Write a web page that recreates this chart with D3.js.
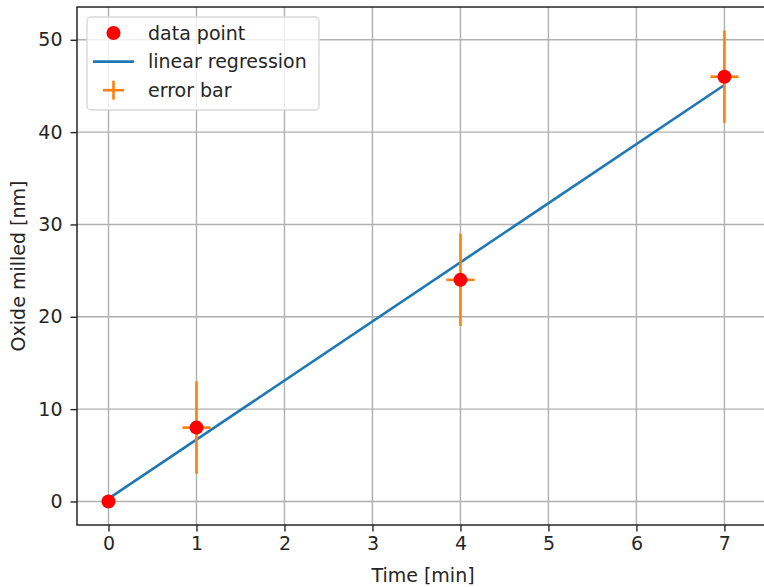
<!DOCTYPE html>
<html>
<head>
<meta charset="utf-8">
<script src="https://cdn.jsdelivr.net/npm/d3@7"></script>
<style>
  body { margin: 0; background: #fff; }
  svg { display: block; font-family: "DejaVu Sans", sans-serif; }
</style>
</head>
<body>
<svg width="764" height="587"></svg>
<script>
// Measured data
const times = [0, 1, 4, 7];
const oxide = [0, 8, 24, 46];
const yErr = [0, 5, 5, 5];
const xErr = [0, 0.16, 0.16, 0.16];

// Regression line end points
const fitTimes = [0, 7];
const fitOxide = [0.3, 45.1];

const xTicks = [0, 1, 2, 3, 4, 5, 6, 7];
const yTicks = [0, 10, 20, 30, 40, 50];

const width = 764;
const height = 587;
const margin = { top: 7, right: -6, bottom: 62, left: 77 };
const fontSize = 19;
const textColor = "#262626";

const svg = d3.select("svg");

const x = d3.scaleLinear()
  .domain([-0.358, 7.518])
  .range([margin.left, width - margin.right]);

const y = d3.scaleLinear()
  .domain([-2.55, 53.55])
  .range([height - margin.bottom, margin.top]);

const plotLeft = margin.left, plotRight = width - margin.right;
const plotTop = margin.top, plotBottom = height - margin.bottom;

// Grid
svg.append("g").selectAll("line")
  .data(xTicks).enter().append("line")
  .attr("x1", d => x(d)).attr("x2", d => x(d))
  .attr("y1", plotTop).attr("y2", plotBottom)
  .attr("stroke", "#b0b0b0").attr("stroke-width", 1.4);

svg.append("g").selectAll("line")
  .data(yTicks).enter().append("line")
  .attr("y1", d => y(d)).attr("y2", d => y(d))
  .attr("x1", plotLeft).attr("x2", plotRight)
  .attr("stroke", "#b0b0b0").attr("stroke-width", 1.4);

// Axes
const xAxis = d3.axisBottom(x).tickValues(xTicks).tickSize(6.5).tickPadding(5).tickFormat(d3.format("d"));
const yAxis = d3.axisLeft(y).tickValues(yTicks).tickSize(6.5).tickPadding(8).tickFormat(d3.format("d"));

const gx = svg.append("g")
  .attr("transform", `translate(0, ${plotBottom})`)
  .call(xAxis);
const gy = svg.append("g")
  .attr("transform", `translate(${plotLeft}, 0)`)
  .call(yAxis);

[gx, gy].forEach(g => {
  g.select(".domain").remove();
  g.selectAll("text").attr("font-size", fontSize).attr("fill", textColor)
    .attr("font-family", "DejaVu Sans, sans-serif");
  g.selectAll("line").attr("stroke", textColor).attr("stroke-width", 1.4);
});

// Frame
svg.append("rect")
  .attr("x", plotLeft).attr("y", plotTop)
  .attr("width", plotRight - plotLeft).attr("height", plotBottom - plotTop)
  .attr("fill", "none").attr("stroke", textColor).attr("stroke-width", 1.5);

// Regression line
const fit = fitTimes.map((t, i) => [t, fitOxide[i]]);
svg.append("path")
  .datum(fit)
  .attr("d", d3.line().x(d => x(d[0])).y(d => y(d[1])))
  .attr("fill", "none").attr("stroke", "#1f77b4").attr("stroke-width", 2.6);

// Error bars
const pts = times.map((t, i) => ({ t, v: oxide[i], ey: yErr[i], ex: xErr[i] }));
const eb = svg.append("g").attr("stroke", "#ff7f0e").attr("stroke-width", 2.6);
eb.selectAll("line.ev").data(pts.filter(d => d.ey > 0)).enter().append("line")
  .attr("x1", d => x(d.t)).attr("x2", d => x(d.t))
  .attr("y1", d => y(d.v - d.ey)).attr("y2", d => y(d.v + d.ey));
eb.selectAll("line.eh").data(pts.filter(d => d.ex > 0)).enter().append("line")
  .attr("x1", d => x(d.t - d.ex)).attr("x2", d => x(d.t + d.ex))
  .attr("y1", d => y(d.v)).attr("y2", d => y(d.v));

// Data points
svg.append("g").selectAll("circle")
  .data(pts).enter().append("circle")
  .attr("cx", d => x(d.t)).attr("cy", d => y(d.v))
  .attr("r", 7).attr("fill", "#ff0000");

// Axis labels
svg.append("text")
  .attr("x", 423).attr("y", 582)
  .attr("text-anchor", "middle").attr("font-size", fontSize).attr("fill", textColor)
  .text("Time [min]");

svg.append("text")
  .attr("transform", `translate(25, ${(plotTop + plotBottom) / 2}) rotate(-90)`)
  .attr("text-anchor", "middle").attr("font-size", fontSize).attr("fill", textColor)
  .text("Oxide milled [nm]");

// Legend
const legend = svg.append("g").attr("transform", "translate(87, 17)");
legend.append("rect")
  .attr("width", 232).attr("height", 93).attr("rx", 4)
  .attr("fill", "#fff").attr("fill-opacity", 0.8)
  .attr("stroke", "#d9d9d9").attr("stroke-width", 1.4);

const entries = ["data point", "linear regression", "error bar"];
entries.forEach((label, i) => {
  const cy = 16 + i * 28.6;
  if (i === 0) {
    legend.append("circle").attr("cx", 26.5).attr("cy", cy).attr("r", 7).attr("fill", "#ff0000");
  } else if (i === 1) {
    legend.append("line").attr("x1", 6).attr("x2", 47).attr("y1", cy).attr("y2", cy)
      .attr("stroke", "#1f77b4").attr("stroke-width", 2.6);
  } else {
    legend.append("line").attr("x1", 16).attr("x2", 37).attr("y1", cy).attr("y2", cy)
      .attr("stroke", "#ff7f0e").attr("stroke-width", 2.6);
    legend.append("line").attr("x1", 26.5).attr("x2", 26.5).attr("y1", cy - 9.5).attr("y2", cy + 9.5)
      .attr("stroke", "#ff7f0e").attr("stroke-width", 2.6);
  }
  legend.append("text")
    .attr("x", 61).attr("y", cy).attr("dy", "0.36em")
    .attr("font-size", fontSize).attr("fill", textColor)
    .text(label);
});
</script>
</body>
</html>
